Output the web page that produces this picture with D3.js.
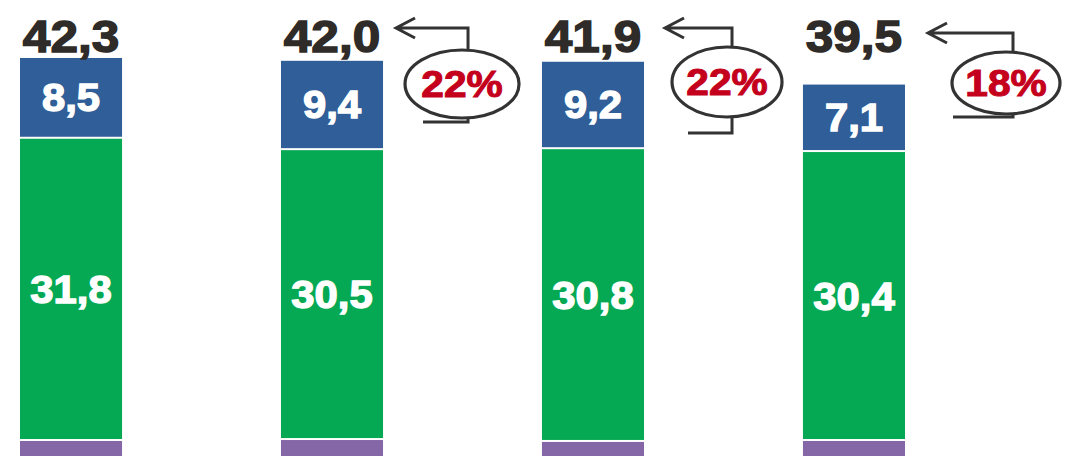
<!DOCTYPE html>
<html>
<head>
<meta charset="utf-8">
<script src="https://cdn.jsdelivr.net/npm/d3@7"></script>
<style>
  html, body { margin: 0; padding: 0; background: #fff; }
  svg { display: block; }
  text { font-family: "Liberation Sans", Arial, sans-serif; font-weight: bold; }
</style>
</head>
<body>
<div id="chart"></div>
<script>
// chart data
var categories = ["1", "2", "3", "4"];
var purpleVals = [2.0, 2.1, 1.9, 2.0];
var greenVals  = [31.8, 30.5, 30.8, 30.4];
var blueVals   = [8.5, 9.4, 9.2, 7.1];
var totals     = [42.3, 42.0, 41.9, 39.5];
var shareLabels = ["22%", "22%", "18%"];   // blue share, bars 2..4

var width = 1068, height = 456;
var colors = {purple: "#8566a6", green: "#05a953", blue: "#2f5e98"};

var fmt = d3.formatLocale({decimal: ",", thousands: ".", grouping: [3], currency: ["", "€"]}).format(".1f");

var rows = categories.map(function(c, i) {
  return {cat: c, purple: purpleVals[i], green: greenVals[i], blue: blueVals[i], total: totals[i]};
});

var svg = d3.select("#chart")
  .append("svg")
  .attr("width", width)
  .attr("height", height);

var x = d3.scaleBand()
  .domain(categories)
  .range([20, 905])
  .paddingInner(0.609)
  .paddingOuter(0);

// baseline sits just below the cropped picture
var y = d3.scaleLinear()
  .domain([0, 45])
  .range([460, 32.3]);

var keys = ["purple", "green", "blue"];
var series = d3.stack().keys(keys)(rows);
var gap = 2;   // light gap between stacked segments

var layer = svg.selectAll("g.layer")
  .data(series)
  .enter()
  .append("g")
    .attr("class", "layer")
    .attr("fill", function(s) { return colors[s.key]; });

layer.selectAll("rect")
  .data(function(s) { return s.map(function(d) { return {d: d, key: s.key, idx: s.index}; }); })
  .enter()
  .append("rect")
    .attr("x", function(p) { return x(p.d.data.cat); })
    .attr("width", x.bandwidth())
    .attr("y", function(p) { return y(p.d[1]); })
    .attr("height", function(p) {
      var h = y(p.d[0]) - y(p.d[1]);
      return p.idx > 0 ? h - gap : h;
    });

// labels inside the blue and green segments
var hScale = 1.1;
layer.filter(function(s) { return s.key !== "purple"; })
  .selectAll("text")
  .data(function(s) { return s.map(function(d) { return {d: d, key: s.key}; }); })
  .enter()
  .append("text")
    .attr("transform", function(p) {
      var cx = x(p.d.data.cat) + x.bandwidth() / 2;
      var cy = (y(p.d[0]) + y(p.d[1])) / 2 + 13;
      return "translate(" + cx + "," + cy + ") scale(" + hScale + ",1)";
    })
    .attr("text-anchor", "middle")
    .attr("fill", "#fff")
    .attr("stroke", "#fff")
    .attr("stroke-width", 1.3)
    .style("font-size", "38px")
    .text(function(p) { return fmt(p.d.data[p.key]); });

// totals above the bars
svg.selectAll("text.total")
  .data(rows)
  .enter()
  .append("text")
    .attr("class", "total")
    .attr("transform", function(d) {
      return "translate(" + (x(d.cat) + x.bandwidth() / 2) + ",52) scale(" + hScale + ",1)";
    })
    .attr("text-anchor", "middle")
    .attr("fill", "#2e2b28")
    .attr("stroke", "#2e2b28")
    .attr("stroke-width", 1.4)
    .style("font-size", "45px")
    .text(function(d) { return fmt(d.total); });

// looped arrows with the blue share, right of bars 2..4
var annLayout = [
  {dx: 79,  tip: 13, cy: 84, rx: 57, ry: 34, stem: 6, low: 122, left: 39},
  {dx: 83,  tip: 21, cy: 82, rx: 55, ry: 35, stem: 5, low: 133, left: 39},
  {dx: 101, tip: 23, cy: 83, rx: 54, ry: 31, stem: 7, low: 117, left: 53}
];
var arrowY = [28, 28, 33];

var ann = svg.selectAll("g.ann")
  .data(shareLabels)
  .enter()
  .append("g")
    .attr("class", "ann")
    .each(function(lbl, i) {
      var g = d3.select(this);
      var L = annLayout[i];
      var right = x(categories[i + 1]) + x.bandwidth();
      var cx = right + L.dx, sx = cx + L.stem, tipX = right + L.tip, ay = arrowY[i];
      var stroke = "#333";
      var edge = Math.sqrt(1 - Math.pow(L.stem / L.rx, 2)) * L.ry;

      g.append("ellipse")
        .attr("cx", cx).attr("cy", L.cy)
        .attr("rx", L.rx).attr("ry", L.ry)
        .attr("fill", "none").attr("stroke", stroke).attr("stroke-width", 3.2);

      var path = d3.path();
      path.moveTo(tipX, ay); path.lineTo(sx, ay);
      path.lineTo(sx, L.cy - edge);
      path.moveTo(tipX + 19, ay - 10); path.lineTo(tipX, ay); path.lineTo(tipX + 19, ay + 10);
      path.moveTo(sx, L.cy + edge);
      path.lineTo(sx, L.low); path.lineTo(cx - L.left, L.low);
      g.append("path")
        .attr("d", path.toString())
        .attr("fill", "none").attr("stroke", stroke).attr("stroke-width", 3);

      g.append("text")
        .attr("transform", "translate(" + cx + "," + (L.cy + 13) + ") scale(" + hScale + ",1)")
        .attr("text-anchor", "middle")
        .attr("fill", "#c4001c")
        .attr("stroke", "#c4001c")
        .attr("stroke-width", 1)
        .style("font-size", "37px")
        .text(lbl);
    });
</script>
</body>
</html>
